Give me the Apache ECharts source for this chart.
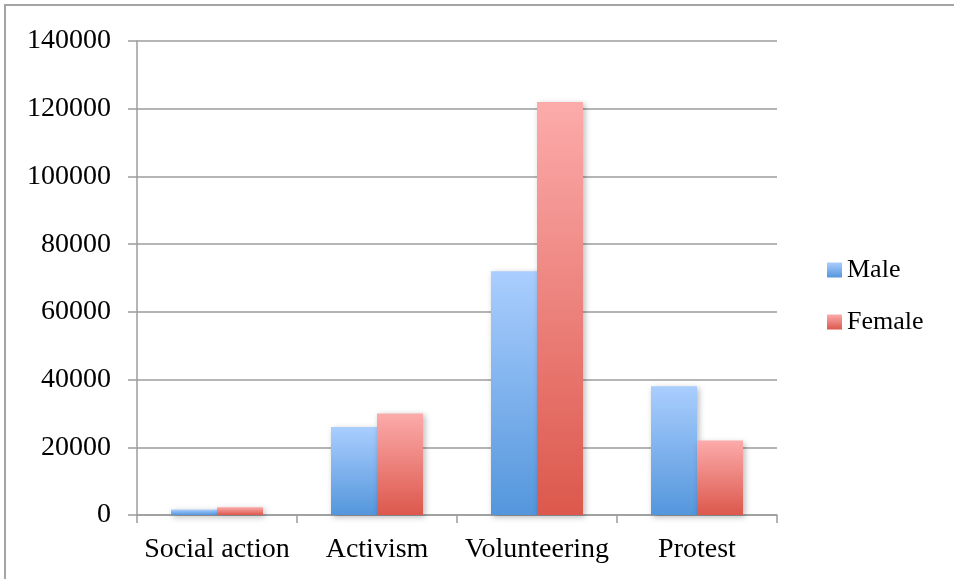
<!DOCTYPE html>
<html>
<head>
<meta charset="utf-8">
<script src="https://cdn.jsdelivr.net/npm/echarts@6/dist/echarts.min.js"></script>
<style>
  html, body { margin: 0; padding: 0; background: #fff; }
  #chart { width: 954px; height: 579px; }
</style>
</head>
<body>
<div id="chart"></div>
<script>
// Participation counts by type of engagement, split by gender
const categories = ['Social action', 'Activism', 'Volunteering', 'Protest'];
const maleValues = [1600, 26000, 72000, 38000];
const femaleValues = [2300, 30000, 122000, 22000];
const yTicks = [0, 20000, 40000, 60000, 80000, 100000, 120000, 140000];

const FONT = '"Liberation Serif", "DejaVu Serif", serif';
const GRID = '#9c9c9c';

function vGrad(top, bottom) {
  return new echarts.graphic.LinearGradient(0, 0, 0, 1, [
    { offset: 0, color: top },
    { offset: 1, color: bottom }
  ]);
}

const barShadow = {
  shadowBlur: 6,
  shadowColor: 'rgba(0,0,0,0.28)',
  shadowOffsetX: 2,
  shadowOffsetY: 2
};

const chart = echarts.init(document.getElementById('chart'), null, { renderer: 'canvas' });

chart.setOption({
  backgroundColor: '#ffffff',
  animation: false,
  textStyle: { fontFamily: FONT },
  graphic: [
    {
      type: 'rect',
      shape: { x: 5, y: 5, width: 1200, height: 1200 },
      style: { fill: 'none', stroke: '#a4a4a4', lineWidth: 2 },
      silent: true
    }
  ],
  grid: { left: 137, right: 177, top: 41, bottom: 64 },
  legend: {
    orient: 'vertical',
    left: 827,
    top: 256,
    padding: 0,
    itemWidth: 15,
    itemHeight: 15,
    itemGap: 24,
    icon: 'rect',
    textStyle: { fontFamily: FONT, fontSize: 26, color: '#000', lineHeight: 28 },
    data: ['Male', 'Female']
  },
  xAxis: {
    type: 'category',
    data: categories,
    axisLine: { show: true, lineStyle: { color: GRID, width: 1.5 } },
    axisTick: { show: true, length: 8, alignWithLabel: false, lineStyle: { color: GRID, width: 1.5 } },
    axisLabel: { fontFamily: FONT, fontSize: 28, color: '#000', margin: 21, interval: 0 },
    splitLine: { show: false }
  },
  yAxis: {
    type: 'value',
    min: yTicks[0],
    max: yTicks[yTicks.length - 1],
    interval: yTicks[1] - yTicks[0],
    axisLine: { show: true, lineStyle: { color: GRID, width: 1.5 } },
    axisTick: { show: true, length: 9, lineStyle: { color: GRID, width: 1.5 } },
    axisLabel: {
      fontFamily: FONT, fontSize: 28, color: '#000', margin: 26,
      formatter: function (v) { return String(v); }
    },
    splitLine: { show: true, lineStyle: { color: GRID, width: 1.5 } }
  },
  series: [
    {
      name: 'Male',
      type: 'bar',
      data: maleValues,
      barWidth: 46,
      barGap: '0%',
      itemStyle: Object.assign({ color: vGrad('#aacefe', '#5496dc') }, barShadow)
    },
    {
      name: 'Female',
      type: 'bar',
      data: femaleValues,
      barWidth: 46,
      barGap: '0%',
      itemStyle: Object.assign({ color: vGrad('#fcabab', '#dc584c') }, barShadow)
    }
  ]
});
</script>
</body>
</html>
